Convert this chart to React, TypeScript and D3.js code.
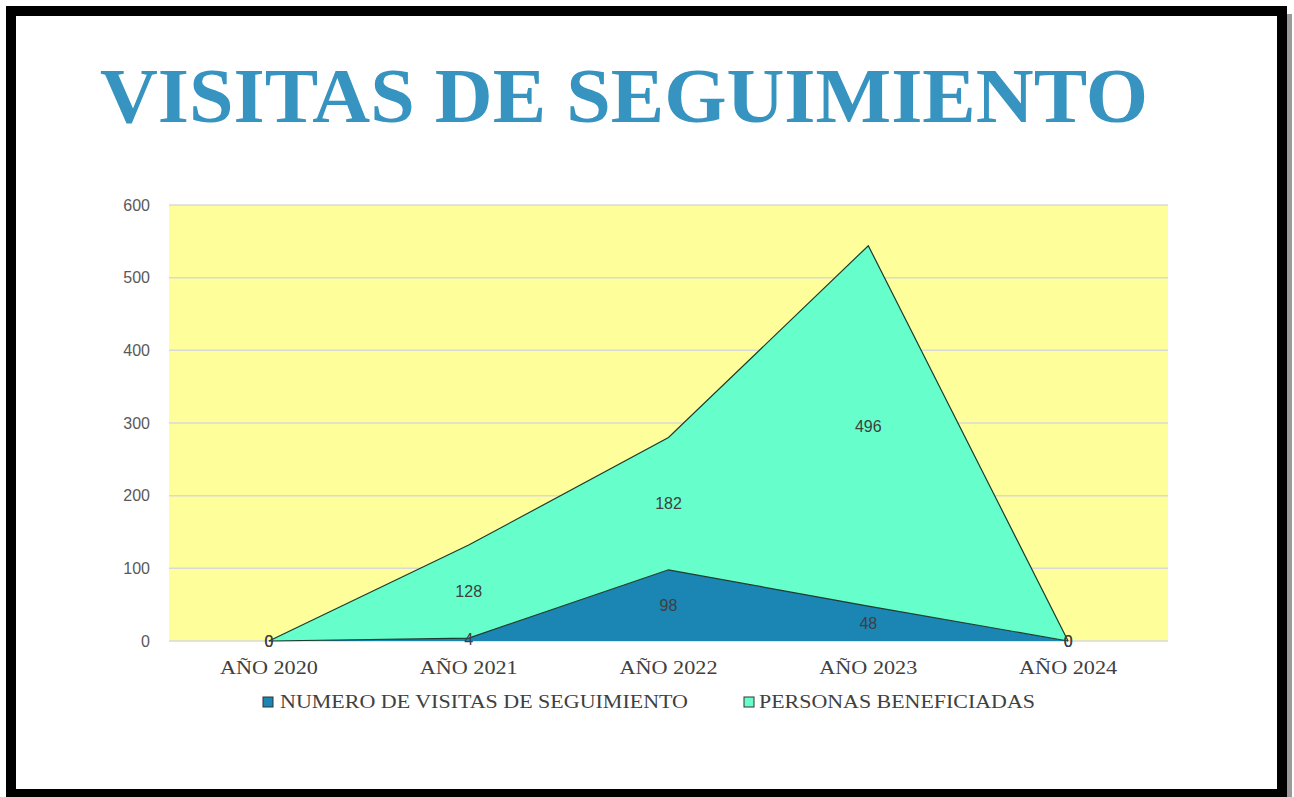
import React from "react";
import * as d3 from "d3";

const categories = ["AÑO 2020", "AÑO 2021", "AÑO 2022", "AÑO 2023", "AÑO 2024"];
const visitas = [0, 4, 98, 48, 0];
const personas = [0, 128, 182, 496, 0];
const seriesNames = ["NUMERO DE VISITAS DE SEGUIMIENTO", "PERSONAS BENEFICIADAS"];
const yTicks = [0, 100, 200, 300, 400, 500, 600];
const title = "VISITAS DE SEGUIMIENTO";

const colors = ["#1b85b3", "#66ffcc"];

export default function App() {
  const W = 1294, H = 797;
  const plot = { left: 169, right: 1168, top: 205, bottom: 641 };
  const x = d3.scalePoint<string>().domain(categories).range([plot.left, plot.right]).padding(0.5);
  const y = d3.scaleLinear().domain([0, 600]).range([plot.bottom, plot.top]);

  const rows = categories.map((c, i) => ({ cat: c, s0: visitas[i], s1: personas[i] }));
  const stack = d3.stack<any>().keys(["s0", "s1"]);
  const layers = stack(rows);
  const area = d3.area<any>()
    .x((d) => x(d.data.cat)!)
    .y0((d) => y(d[0]))
    .y1((d) => y(d[1]));
  const topLine = d3.line<any>().x((d) => x(d.data.cat)!).y((d) => y(d[1]));

  const legendItems = [
    { name: seriesNames[0], sx: 263, tx: 280, len: 408 },
    { name: seriesNames[1], sx: 744, tx: 759, len: 276 },
  ];

  return (
    <svg width={W} height={H} style={{ position: "absolute", left: 0, top: 0, background: "#fff" }}>
      <rect x={0} y={0} width={W} height={H} fill="#fff" />
      <rect x={1287} y={14} width={5} height={783} fill="#9a9a9a" />
      <rect x={11} y={11} width={1271} height={783} fill="#fff" stroke="#000" strokeWidth={10} />
      <text
        x={100}
        y={122}
        fontFamily="'Liberation Serif', 'DejaVu Serif', serif"
        fontWeight="bold"
        fontSize={78}
        fill="#3794c0"
        textLength={1048}
        lengthAdjust="spacingAndGlyphs"
      >
        {title}
      </text>

      <rect x={plot.left} y={plot.top} width={plot.right - plot.left} height={plot.bottom - plot.top} fill="#fefe9a" />
      {yTicks.map((t) => (
        <g key={t}>
          <line x1={plot.left} x2={plot.right} y1={y(t)} y2={y(t)} stroke="#d9d9d9" strokeWidth={1.5} />
          <text x={150} y={y(t)} dy="0.35em" textAnchor="end" fontFamily="'Liberation Sans', Arial, sans-serif" fontSize={16} fill="#595959">
            {t}
          </text>
        </g>
      ))}

      {layers.map((layer, i) => (
        <path key={i} d={area(layer as any) || ""} fill={colors[i]} />
      ))}
      {layers.map((layer, i) => (
        <path key={"l" + i} d={topLine(layer as any) || ""} fill="none" stroke="#1d3b2e" strokeWidth={1.2} />
      ))}

      {layers.map((layer, i) =>
        (layer as any[]).map((d, j) => (
          <text
            key={`lab${i}-${j}`}
            x={x(d.data.cat)!}
            y={y((d[0] + d[1]) / 2)}
            dy="0.35em"
            textAnchor="middle"
            fontFamily="'Liberation Sans', Arial, sans-serif"
            fontSize={16}
            fill="#404040"
          >
            {i === 0 ? visitas[j] : personas[j]}
          </text>
        ))
      )}

      {categories.map((c) => (
        <text
          key={c}
          x={x(c)!}
          y={668}
          dy="0.35em"
          textAnchor="middle"
          fontFamily="'Liberation Serif', 'DejaVu Serif', serif"
          fontSize={18}
          fill="#404040"
          textLength={98}
          lengthAdjust="spacingAndGlyphs"
        >
          {c}
        </text>
      ))}

      {legendItems.map((it, i) => (
        <g key={it.name}>
          <rect x={it.sx} y={697} width={10} height={10} fill={colors[i]} stroke="#333" strokeWidth={1} />
          <text
            x={it.tx}
            y={702}
            dy="0.35em"
            fontFamily="'Liberation Serif', 'DejaVu Serif', serif"
            fontSize={18}
            fill="#404040"
            textLength={it.len}
            lengthAdjust="spacingAndGlyphs"
          >
            {it.name}
          </text>
        </g>
      ))}
    </svg>
  );
}
